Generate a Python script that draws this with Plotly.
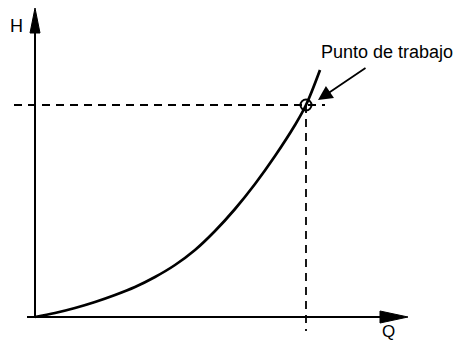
import plotly.graph_objects as go

# Pump curve H(Q) (arbitrary units)
q_curve = [0, 20, 40, 60, 80, 100, 120, 140, 160, 180, 200, 220, 240, 260, 271, 285]
h_curve = [0, 4, 9, 15, 22, 30, 40, 52, 67, 86, 108, 133, 161, 192, 212, 247]

# Operating point
q_work = [271]
h_work = [212]

label_point = "Punto de trabajo"
label_h = "H"
label_q = "Q"

FONT = "Liberation Sans, Arial, sans-serif"

fig = go.Figure()

# curve
fig.add_trace(go.Scatter(x=q_curve, y=h_curve, mode="lines",
                         line=dict(color="black", width=2.7, shape="spline", smoothing=1.0),
                         hoverinfo="skip", showlegend=False))

qw, hw = q_work[0], h_work[0]

# dashed guide lines
fig.add_trace(go.Scatter(x=[-21, qw + 19], y=[hw, hw], mode="lines",
                         line=dict(color="black", width=1.8, dash="8px,6px"),
                         hoverinfo="skip", showlegend=False))
fig.add_trace(go.Scatter(x=[qw, qw], y=[hw, -14], mode="lines",
                         line=dict(color="black", width=1.8, dash="8px,6px"),
                         hoverinfo="skip", showlegend=False))

# operating point marker
fig.add_trace(go.Scatter(x=q_work, y=h_work, mode="markers",
                         marker=dict(symbol="circle-open", size=11, color="black",
                                     line=dict(width=2, color="black")),
                         hoverinfo="skip", showlegend=False))

shapes = [
    # x axis line
    dict(type="line", xref="x", yref="y", x0=-8, y0=0, x1=350, y1=0,
         line=dict(color="black", width=2)),
    # y axis line
    dict(type="line", xref="x", yref="y", x0=0, y0=0, x1=0, y1=290,
         line=dict(color="black", width=2)),
    # x arrowhead
    dict(type="path", xref="x", yref="y", path="M 345 -6 L 373 0 L 345 6 Z",
         fillcolor="black", line=dict(color="black", width=1)),
    # y arrowhead
    dict(type="path", xref="x", yref="y", path="M -5 284 L 0 309 L 5 284 Z",
         fillcolor="black", line=dict(color="black", width=1)),
]

annotations = [
    dict(x=qw + 12, y=hw + 5, ax=qw + 61, ay=hw + 38, xref="x", yref="y",
         axref="x", ayref="y", text="", showarrow=True, arrowhead=2,
         arrowsize=1.6, arrowwidth=1.8, arrowcolor="black"),
    dict(x=284, y=265, xref="x", yref="y", text=label_point, showarrow=False,
         xanchor="left", yanchor="middle", font=dict(family=FONT, size=18, color="black")),
    dict(x=-19, y=291, xref="x", yref="y", text=label_h, showarrow=False,
         xanchor="center", yanchor="middle", font=dict(family=FONT, size=18, color="black")),
    dict(x=353, y=-14, xref="x", yref="y", text=label_q, showarrow=False,
         xanchor="center", yanchor="middle", font=dict(family=FONT, size=17, color="black")),
]

# page has an 8px body margin: figure is sized/offset so that data units map to pixels
fig.update_layout(
    width=454, height=332,
    margin=dict(l=0, r=0, t=0, b=0),
    paper_bgcolor="white", plot_bgcolor="white",
    shapes=shapes, annotations=annotations,
    xaxis=dict(range=[-27, 427], visible=False, fixedrange=True),
    yaxis=dict(range=[-23, 309], visible=False, fixedrange=True),
    showlegend=False,
)

fig.write_html("out.html", config={"displayModeBar": False})
